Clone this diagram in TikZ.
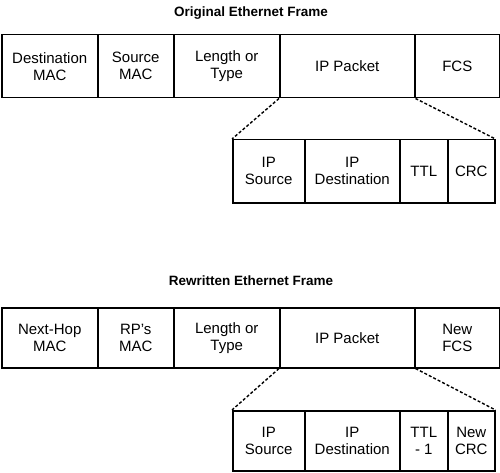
\documentclass[tikz,border=0pt]{standalone}
\usepackage{fontspec}
\setmainfont{Liberation Sans}
\begin{document}
\begin{tikzpicture}[x=1pt,y=-1pt,
  cell/.style={draw, line width=1.5pt, inner sep=0pt, align=center,
    font=\fontsize{15}{17}\selectfont, anchor=north west},
  ttl/.style={font=\bfseries\fontsize{13.5}{16}\selectfont},
  link/.style={line width=1.4pt, dash pattern=on 3pt off 2pt}]
\useasboundingbox (0,0) rectangle (500,473);

% ---------- Original frame ----------
\node[ttl] (t1) at (251,13) {Original Ethernet Frame};
\begin{scope}[every node/.append style={minimum height=63pt}]
\node[cell, minimum width=96pt]  (a1) at (1,34)   {Destination\\MAC};
\node[cell, minimum width=76pt]  (a2) at (97,34)  {Source\\MAC};
\node[cell, minimum width=106pt] (a3) at (173,34) {Length or\\Type};
\node[cell, minimum width=135pt] (a4) at (279,34) {IP Packet};
\node[cell, minimum width=85pt]  (a5) at (414,34) {FCS};
\node[cell, minimum width=72pt]  (b1) at (232,139) {IP\\Source};
\node[cell, minimum width=95pt]  (b2) at (304,139) {IP\\Destination};
\node[cell, minimum width=48pt]  (b3) at (399,139) {TTL};
\node[cell, minimum width=47pt]  (b4) at (447,139) {CRC};
\end{scope}
\draw[link] (a4.south west) -- (b1.north west);
\draw[link] (a4.south east) -- (b4.north east);

% ---------- Rewritten frame ----------
\node[ttl] (t2) at (251,281) {Rewritten Ethernet Frame};
\begin{scope}[every node/.append style={minimum height=60pt}]
\node[cell, minimum width=96pt]  (c1) at (1,307)   {Next-Hop\\MAC};
\node[cell, minimum width=76pt]  (c2) at (97,307)  {RP's\\MAC};
\node[cell, minimum width=106pt] (c3) at (173,307) {Length or\\Type};
\node[cell, minimum width=135pt] (c4) at (279,307) {IP Packet};
\node[cell, minimum width=85pt]  (c5) at (414,307) {New\\FCS};
\node[cell, minimum width=72pt]  (d1) at (232,410) {IP\\Source};
\node[cell, minimum width=95pt]  (d2) at (304,410) {IP\\Destination};
\node[cell, minimum width=48pt]  (d3) at (399,410) {TTL\\- 1};
\node[cell, minimum width=47pt]  (d4) at (447,410) {New\\CRC};
\end{scope}
\draw[link] (c4.south west) -- (d1.north west);
\draw[link] (c4.south east) -- (d4.north east);
\end{tikzpicture}
\end{document}
